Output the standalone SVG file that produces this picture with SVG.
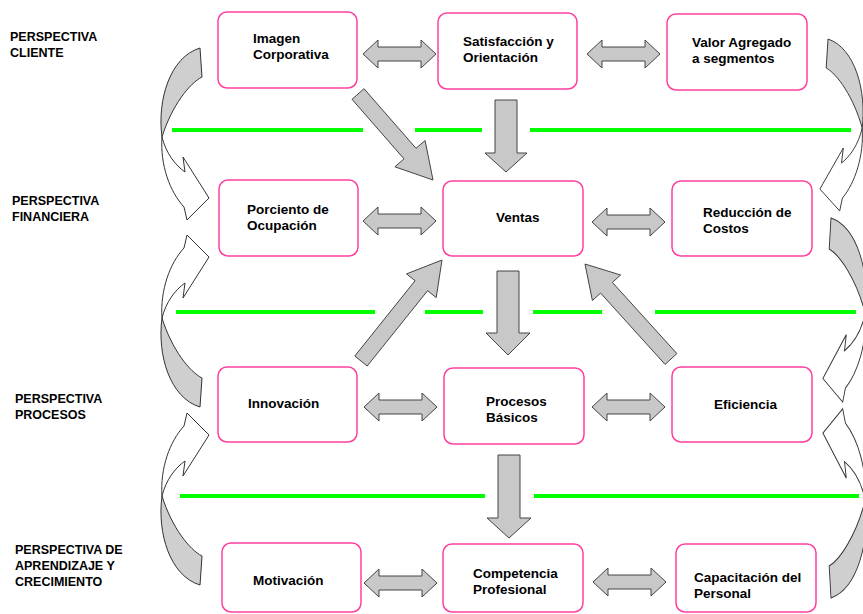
<svg xmlns="http://www.w3.org/2000/svg" xmlns:xlink="http://www.w3.org/1999/xlink" width="863" height="614" viewBox="0 0 863 614">
<style>
.box{fill:#fff;stroke:#ff3f9f;stroke-width:1.5}
.t{font-family:"Liberation Sans",Arial,sans-serif;font-weight:bold;font-size:13.5px;fill:#000}
.lbl{font-family:"Liberation Sans",Arial,sans-serif;font-weight:bold;font-size:12.5px;fill:#000}
.ar{fill:#c8c8c8;stroke:#444;stroke-width:1;stroke-linejoin:miter}
.gr{stroke:#00ff00;stroke-width:4;fill:none}
.cg{fill:#cfcfcf;stroke:#333;stroke-width:1}
.cw{fill:#fff;stroke:#333;stroke-width:1}
</style>
<defs>
<path id="dbl" class="ar" d="M0,0 L15,-14 L15,-7 L58,-7 L58,-14 L73,0 L58,14 L58,7 L15,7 L15,14 Z"/>
<g id="curve">
<path class="cg" d="M202,378 C190,372 172,350 162,318 C157,355 170,398 200,407 Z"/>
<path class="cw" d="M162,318 C160,290 170,263 184,248 L187,235 L209,257 L183,298 L185,283 C175,290 166,302 162,318 Z"/>
</g>
</defs>
<rect width="863" height="614" fill="#fff"/>
<g id="labels">
<text class="lbl" x="10" y="41">PERSPECTIVA</text>
<text class="lbl" x="10" y="57">CLIENTE</text>
<text class="lbl" x="12" y="205">PERSPECTIVA</text>
<text class="lbl" x="12" y="221">FINANCIERA</text>
<text class="lbl" x="15" y="403">PERSPECTIVA</text>
<text class="lbl" x="15" y="419">PROCESOS</text>
<text class="lbl" x="15" y="554">PERSPECTIVA DE</text>
<text class="lbl" x="15" y="570">APRENDIZAJE Y</text>
<text class="lbl" x="15" y="586">CRECIMIENTO</text>
</g>
<g id="separators">
<path class="gr" d="M172,130H363M415,130H482M530,130H851"/>
<path class="gr" d="M176,312H375M425,312H483M533,312H602M655,312H856"/>
<path class="gr" d="M180,496H485M534,496H859"/>
</g>
<g id="connectors">
<use xlink:href="#dbl" href="#dbl" transform="translate(363,54)"/>
<use xlink:href="#dbl" href="#dbl" transform="translate(587,54)"/>
<use xlink:href="#dbl" href="#dbl" transform="translate(363,221)"/>
<use xlink:href="#dbl" href="#dbl" transform="translate(592,222)"/>
<use xlink:href="#dbl" href="#dbl" transform="translate(364,407)"/>
<use xlink:href="#dbl" href="#dbl" transform="translate(592,407)"/>
<use xlink:href="#dbl" href="#dbl" transform="translate(364,583)"/>
<use xlink:href="#dbl" href="#dbl" transform="translate(593,582)"/>
<polygon class="ar" points="495,100 517,100 517,153 527,153 506,172 485,153 495,153"/>
<polygon class="ar" points="497,271 519,271 519,333 530,333 508,355 486,333 497,333"/>
<polygon class="ar" points="498,455 520,455 520,518 531,518 509,538 487,518 498,518"/>
<polygon class="ar" points="352,99.3 404,158.9 394.9,166.8 433,180 425.1,140.5 416,148.3 364,88.7"/>
<polygon class="ar" points="367.2,366 427.6,290.7 436.2,297.6 442,260 406.5,273.9 415.1,280.7 354.8,356"/>
<polygon class="ar" points="676.9,353.6 612.4,282.4 620.6,275 585,264 592.4,300.5 600.6,293.1 665.1,364.4"/>
<use xlink:href="#curve" href="#curve" transform="matrix(1,0,0,-1,0,455)"/>
<use xlink:href="#curve" href="#curve"/>
<use xlink:href="#curve" href="#curve" transform="translate(0,178)"/>
<use xlink:href="#curve" href="#curve" transform="matrix(-0.9,0,0,-1,1008,446)"/>
<use xlink:href="#curve" href="#curve" transform="matrix(-0.9,0,0,-1.07,1011,653.5)"/>
<use xlink:href="#curve" href="#curve" transform="matrix(-0.9,0,0,1.1,1011,150.3)"/>
</g>
<g id="n-imagen"><rect class="box" x="218" y="12" width="139" height="76" rx="9"/><text class="t" x="253" y="43">Imagen</text><text class="t" x="253" y="59">Corporativa</text></g>
<g id="n-satisfaccion"><rect class="box" x="438" y="13" width="139" height="76" rx="9"/><text class="t" x="463" y="46">Satisfacción y</text><text class="t" x="463" y="62">Orientación</text></g>
<g id="n-valor"><rect class="box" x="667" y="14" width="140" height="76" rx="9"/><text class="t" x="692" y="47">Valor Agregado</text><text class="t" x="692" y="63">a segmentos</text></g>
<g id="n-porciento"><rect class="box" x="219" y="180" width="139" height="76" rx="9"/><text class="t" x="247" y="214">Porciento de</text><text class="t" x="247" y="230">Ocupación</text></g>
<g id="n-ventas"><rect class="box" x="443" y="181" width="140" height="75" rx="9"/><text class="t" x="496" y="222">Ventas</text></g>
<g id="n-reduccion"><rect class="box" x="672" y="181" width="140" height="75" rx="9"/><text class="t" x="703" y="217">Reducción de</text><text class="t" x="703" y="233">Costos</text></g>
<g id="n-innovacion"><rect class="box" x="218" y="367" width="139" height="75" rx="9"/><text class="t" x="248" y="408">Innovación</text></g>
<g id="n-procesos"><rect class="box" x="444" y="368" width="140" height="76" rx="9"/><text class="t" x="486" y="406">Procesos</text><text class="t" x="486" y="422">Básicos</text></g>
<g id="n-eficiencia"><rect class="box" x="672" y="367" width="140" height="75" rx="9"/><text class="t" x="714" y="409">Eficiencia</text></g>
<g id="n-motivacion"><rect class="box" x="222" y="543" width="139" height="69" rx="9"/><text class="t" x="253" y="585">Motivación</text></g>
<g id="n-competencia"><rect class="box" x="443" y="544" width="140" height="68" rx="9"/><text class="t" x="473" y="578">Competencia</text><text class="t" x="473" y="594">Profesional</text></g>
<g id="n-capacitacion"><rect class="box" x="676" y="544" width="140" height="68" rx="9"/><text class="t" x="694" y="582">Capacitación del</text><text class="t" x="694" y="598">Personal</text></g>
</svg>
